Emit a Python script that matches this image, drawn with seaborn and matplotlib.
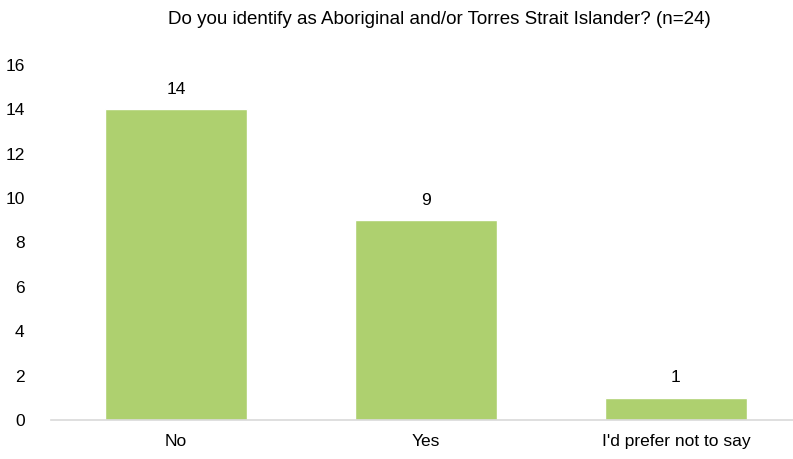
import matplotlib
matplotlib.use("Agg")
import matplotlib.pyplot as plt
import seaborn as sns
import pandas as pd

# Data
categories = ["No", "Yes", "I'd prefer not to say"]
counts = [14, 9, 1]
title = "Do you identify as Aboriginal and/or Torres Strait Islander? (n=24)"

sns.set_theme(style="white")
plt.rcParams['font.family'] = ['Liberation Sans', 'DejaVu Sans']

df = pd.DataFrame({'Response': categories, 'Count': counts})

fig = plt.figure(figsize=(7.93, 4.59), dpi=100)
ax = fig.add_axes([51 / 793, 39 / 459, 742 / 793, 355 / 459])

sns.barplot(data=df, x='Response', y='Count', color='#aed06f', saturation=1,
            width=0.57, ax=ax)

ax.set_ylim(0, 16)
ax.set_xlim(-0.5, -0.5 + 742 / 250)
ax.set_yticks(range(0, 17, 2))
ax.set_xlabel('')
ax.set_ylabel('')

for c in ax.containers:
    ax.bar_label(c, fmt='%d', padding=9, fontsize=12.5, color='#000000')

for side in ['top', 'right', 'left']:
    ax.spines[side].set_visible(False)
ax.spines['bottom'].set_color('#d9d9d9')
ax.spines['bottom'].set_linewidth(1.2)

ax.tick_params(axis='y', length=0, pad=19, labelsize=12.5, labelcolor='#000000')
ax.tick_params(axis='x', length=0, pad=10, labelsize=12.5, labelcolor='#000000')

fig.text(439 / 793, 1 - 20 / 459, title, ha='center', va='center',
         fontsize=13.5, color='#000000')

fig.savefig('out.png', dpi=100)
